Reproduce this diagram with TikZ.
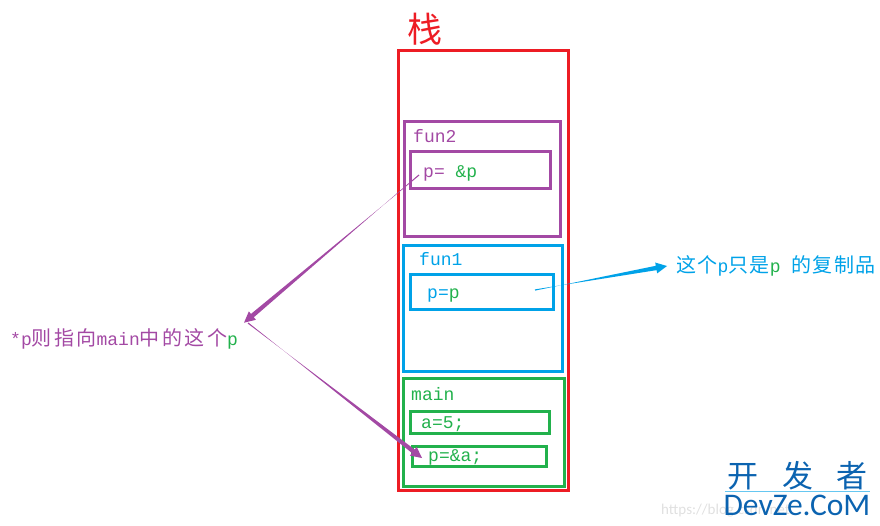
\documentclass[tikz,border=0pt]{standalone}
\usepackage{fontspec}
\usetikzlibrary{calc}
\setmainfont{Liberation Mono}
\newfontfamily\cjk{Noto Sans CJK SC}
\newfontfamily\cjkwide[LetterSpace=12]{Noto Sans CJK SC}
\newfontfamily\cjkmid[LetterSpace=7]{Noto Sans CJK SC}
\newfontfamily\logofont{Carlito}
\definecolor{stackred}{HTML}{ED1C24}
\definecolor{funpurple}{HTML}{A349A4}
\definecolor{funblue}{HTML}{00A2E8}
\definecolor{maingreen}{HTML}{22B14C}
\definecolor{logoblue}{HTML}{0B63B0}
\tikzset{
  framebox/.style={draw=#1, line width=3pt, inner sep=0pt, outer sep=0pt, anchor=north west},
  codetext/.style={anchor=base west, inner sep=0pt, font=\fontsize{18pt}{18pt}\selectfont},
}
\newcommand{\hanwide}[1]{{\cjkwide\fontsize{20pt}{20pt}\selectfont #1}}
\newcommand{\hanmid}[1]{{\cjkmid\fontsize{20pt}{20pt}\selectfont #1}}
% tapered arrow: start, tip, colour
\newcommand{\taperarrow}[3]{
\coordinate (neck) at ($(#2)!11pt!(#1)$);
\fill[#3] ($(#1)!.6pt!90:(#2)$)--($(neck)!2.2pt!-90:(#2)$)--($(neck)!5.5pt!-90:(#2)$)--(#2)
  --($(neck)!5.5pt!90:(#2)$)--($(neck)!2.2pt!90:(#2)$)--($(#1)!.6pt!-90:(#2)$)--cycle;
}
\begin{document}
\begin{tikzpicture}[>=latex, x=1pt, y=-1pt]
\useasboundingbox (0,0) rectangle (880,526);
% stack and frames
\node[framebox=stackred, minimum width=170pt, minimum height=439pt] (stackframe) at (398.5,51) {};
\node[framebox=funpurple, minimum width=156pt, minimum height=115.5pt] (funtwo) at (404.5,121.5) {};
\node[framebox=funpurple, minimum width=140pt, minimum height=37pt] (funtwop) at (410.5,151.5) {};
\node[framebox=funblue, minimum width=159pt, minimum height=125.5pt] (funone) at (403.5,245.5) {};
\node[framebox=funblue, minimum width=143pt, minimum height=35.5pt] (funonep) at (410.5,274.5) {};
\node[framebox=maingreen, minimum width=161pt, minimum height=108pt] (mainframe) at (403.5,378.5) {};
\node[framebox=maingreen, minimum width=139pt, minimum height=22pt] (maina) at (410.5,411.5) {};
\node[framebox=maingreen, minimum width=134pt, minimum height=20pt] (mainp) at (412.5,446.5) {};

\node[anchor=base west, inner sep=0pt, text=stackred] (stacklabel) at (407.5,43) {{\cjk\fontsize{35pt}{35pt}\selectfont 栈}};
\node[codetext, text=funpurple] (funtwolabel) at (413,143) {fun2};
\node[codetext, text=funpurple] (funtwotext) at (423,178) {p= \textcolor{maingreen}{\&p}};
\node[codetext, text=funblue] (funonelabel) at (419,266) {fun1};
\node[codetext, text=funblue] (funonetext) at (427,299) {p=\textcolor{maingreen}{p}};
\node[codetext, text=maingreen] (mainlabel) at (411,400.5) {main};
\node[codetext, text=maingreen] (mainatext) at (421,428) {a=5;};
\node[codetext, text=maingreen] (mainptext) at (428,461.5) {p=\&a;};

\node[codetext, text=funpurple] (leftnote) at (10,345) {*p\hanwide{则指向}main\hanwide{中的这个}\textcolor{maingreen}{p}};
\node[codetext, text=funblue] (rightnote) at (676,273) {\hanmid{这个}p\hanmid{只是}\textcolor{maingreen}{p} \hanmid{的复制品}};

% arrows
\coordinate (purplestart) at (419,175);
\coordinate (purpletip) at (244,322.7);
\coordinate (backstart) at (248,323);
\coordinate (backtip) at (422,458);
\coordinate (bluestart) at (535,290);
\coordinate (bluetip) at (667,266);
\taperarrow{purplestart}{purpletip}{funpurple}
\taperarrow{backstart}{backtip}{funpurple}
\taperarrow{bluestart}{bluetip}{funblue}

% site mark
\node[anchor=base west, inner sep=0pt, text=black!12, font=\fontsize{15pt}{15pt}\selectfont\logofont] (webmark) at (661,514) {https://blog.csdn.net};
\node[anchor=base, inner sep=0pt, text=logoblue] (logotop) at (797.5,487) {{\cjk\fontsize{31pt}{31pt}\selectfont 开\hspace{24pt}发\hspace{24pt}者}};
\node[anchor=base, inner sep=0pt, text=logoblue, font=\fontsize{31.5pt}{31.5pt}\selectfont\logofont] (logobottom) at (797,515) {DevZe.CoM};
\coordinate (logoleft) at (725,491);
\coordinate (logoright) at (870,491);
\draw[draw=funblue!60, line width=.6pt] (logoleft)--(logoright);
\end{tikzpicture}
\end{document}
